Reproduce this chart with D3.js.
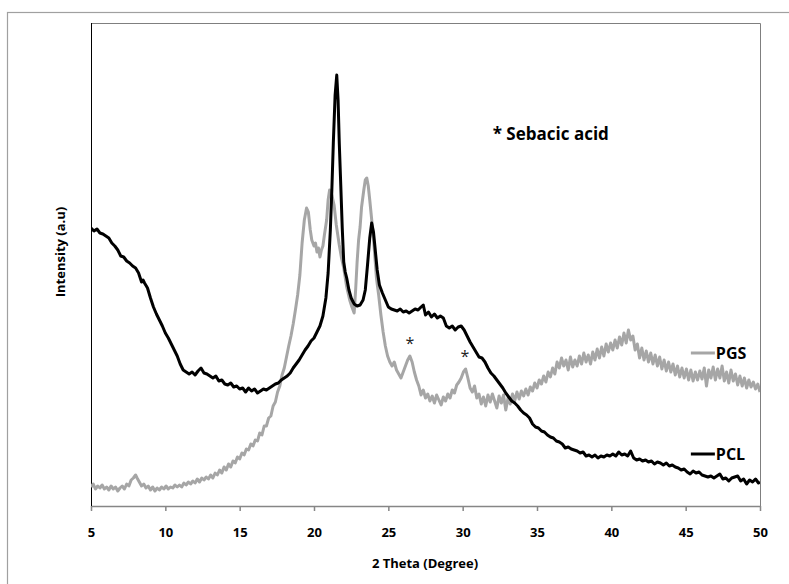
<!DOCTYPE html>
<html>
<head>
<meta charset="utf-8">
<script src="https://cdn.jsdelivr.net/npm/d3@7"></script>
<style>
    body { margin: 0; background: #fff; }
    svg { display: block; font-family: "Open Sans", "Liberation Sans", sans-serif; }
    .tick-label { font-size: 13px; font-weight: bold; fill: #000; }
    .axis-title { font-size: 13px; font-weight: bold; fill: #000; }
</style>
</head>
<body>
<div id="chart"></div>
<script>
// 2 theta (degree), intensity (a.u)
const pgsData = [
    [5.0, 19], [5.15, 22], [5.3, 17], [5.45, 20], [5.6, 18], [5.75, 21], [5.9, 17], [6.05, 19], [6.2, 16], [6.35, 20],
    [6.5, 17], [6.65, 19], [6.8, 15], [6.95, 18], [7.1, 20], [7.25, 17], [7.4, 22], [7.55, 20], [7.7, 26], [7.85, 28],
    [8.0, 31], [8.1, 28], [8.25, 24], [8.4, 20], [8.55, 22], [8.7, 18], [8.85, 20], [9.0, 16], [9.15, 19], [9.3, 15],
    [9.45, 18], [9.6, 16], [9.75, 19], [9.9, 17], [10.05, 20], [10.2, 17], [10.35, 19], [10.5, 18], [10.65, 21], [10.8, 19],
    [10.95, 21], [11.1, 19], [11.25, 23], [11.4, 21], [11.55, 24], [11.7, 22], [11.85, 25], [12.0, 23], [12.15, 27], [12.3, 24],
    [12.45, 28], [12.6, 26], [12.75, 29], [12.9, 27], [13.05, 31], [13.2, 28], [13.35, 33], [13.5, 31], [13.65, 36], [13.8, 33],
    [13.95, 39], [14.1, 36], [14.25, 42], [14.4, 39], [14.55, 45], [14.7, 43], [14.85, 49], [15.0, 47], [15.15, 53], [15.3, 51],
    [15.45, 57], [15.6, 56], [15.75, 62], [15.9, 60], [16.05, 66], [16.2, 65], [16.35, 73], [16.5, 71], [16.65, 80], [16.8, 80],
    [16.95, 88], [17.1, 90], [17.25, 100], [17.4, 104], [17.55, 114], [17.7, 120], [17.85, 131], [18.0, 138], [18.15, 149], [18.3, 160],
    [18.45, 170], [18.6, 182], [18.75, 196], [18.9, 211], [19.05, 231], [19.2, 263], [19.35, 286], [19.5, 298], [19.62, 294], [19.75, 276],
    [19.85, 266], [20.0, 260], [20.1, 263], [20.2, 254], [20.3, 258], [20.4, 249], [20.5, 256], [20.6, 260], [20.7, 271], [20.85, 286],
    [20.95, 306], [21.05, 316], [21.2, 311], [21.35, 301], [21.5, 281], [21.7, 261], [21.85, 248], [22.0, 238], [22.2, 219], [22.4, 206],
    [22.55, 199], [22.7, 193], [22.8, 216], [22.9, 244], [23.0, 266], [23.1, 279], [23.2, 299], [23.35, 316], [23.45, 326], [23.55, 328],
    [23.65, 320], [23.75, 306], [23.85, 291], [24.0, 268], [24.1, 248], [24.2, 228], [24.35, 211], [24.5, 191], [24.65, 174], [24.8, 160],
    [24.95, 150], [25.1, 144], [25.25, 140], [25.4, 144], [25.55, 136], [25.7, 132], [25.85, 128], [26.0, 134], [26.15, 140], [26.3, 146],
    [26.45, 150], [26.6, 144], [26.75, 134], [26.9, 126], [27.05, 120], [27.2, 111], [27.35, 116], [27.5, 108], [27.65, 112], [27.8, 105],
    [27.95, 110], [28.1, 103], [28.25, 111], [28.4, 106], [28.55, 101], [28.7, 109], [28.85, 105], [29.0, 112], [29.15, 108], [29.3, 116],
    [29.45, 113], [29.6, 121], [29.75, 124], [29.9, 128], [30.05, 134], [30.2, 137], [30.35, 128], [30.5, 118], [30.65, 114], [30.8, 120],
    [30.95, 108], [31.1, 112], [31.25, 102], [31.4, 109], [31.55, 100], [31.7, 111], [31.85, 104], [32.0, 112], [32.15, 105], [32.3, 98],
    [32.45, 110], [32.6, 103], [32.75, 111], [32.9, 96], [33.05, 108], [33.2, 102], [33.35, 112], [33.5, 105], [33.65, 114], [33.8, 107],
    [33.95, 115], [34.1, 110], [34.25, 117], [34.4, 111], [34.55, 119], [34.7, 115], [34.85, 123], [35.0, 118], [35.15, 126], [35.3, 122],
    [35.45, 130], [35.6, 124], [35.75, 134], [35.9, 129], [36.05, 138], [36.2, 132], [36.35, 144], [36.5, 138], [36.65, 148], [36.8, 140],
    [36.95, 146], [37.1, 136], [37.25, 149], [37.4, 139], [37.55, 146], [37.7, 140], [37.85, 150], [38.0, 142], [38.15, 153], [38.3, 144],
    [38.45, 151], [38.6, 142], [38.75, 154], [38.9, 146], [39.05, 157], [39.2, 148], [39.35, 159], [39.5, 150], [39.65, 162], [39.8, 154],
    [39.95, 163], [40.1, 156], [40.25, 166], [40.4, 158], [40.55, 169], [40.7, 161], [40.85, 173], [41.0, 163], [41.15, 176], [41.3, 166],
    [41.45, 170], [41.6, 156], [41.75, 162], [41.9, 148], [42.05, 158], [42.2, 146], [42.35, 155], [42.5, 144], [42.65, 153], [42.8, 142],
    [42.95, 151], [43.1, 140], [43.25, 149], [43.4, 137], [43.55, 146], [43.7, 135], [43.85, 144], [44.0, 134], [44.15, 142], [44.3, 131],
    [44.45, 140], [44.6, 129], [44.75, 138], [44.9, 128], [45.05, 137], [45.2, 126], [45.35, 136], [45.5, 125], [45.65, 134], [45.8, 126],
    [45.95, 135], [46.1, 127], [46.25, 138], [46.4, 120], [46.55, 136], [46.7, 128], [46.85, 139], [47.0, 126], [47.15, 137], [47.3, 128],
    [47.45, 140], [47.6, 125], [47.75, 134], [47.9, 123], [48.05, 136], [48.2, 125], [48.35, 132], [48.5, 121], [48.65, 130], [48.8, 120],
    [48.95, 128], [49.1, 118], [49.25, 126], [49.4, 119], [49.55, 124], [49.7, 117], [49.85, 122], [50.0, 114]
];

const pclData = [
    [5.0, 278], [5.2, 275], [5.4, 277], [5.6, 273], [5.8, 272], [6.0, 270], [6.2, 268], [6.4, 263], [6.6, 260], [6.8, 256],
    [7.0, 250], [7.2, 249], [7.4, 245], [7.6, 243], [7.8, 240], [8.0, 238], [8.2, 233], [8.4, 224], [8.5, 226], [8.6, 223],
    [8.8, 218], [9.0, 208], [9.2, 199], [9.4, 192], [9.6, 186], [9.8, 180], [10.0, 173], [10.2, 168], [10.4, 162], [10.6, 156],
    [10.8, 150], [11.0, 142], [11.2, 136], [11.4, 134], [11.6, 132], [11.8, 134], [12.0, 131], [12.2, 135], [12.4, 138], [12.6, 133],
    [12.8, 132], [13.0, 130], [13.2, 128], [13.4, 130], [13.6, 125], [13.8, 126], [14.0, 122], [14.2, 121], [14.4, 123], [14.6, 119],
    [14.8, 120], [15.0, 117], [15.2, 118], [15.4, 114], [15.6, 118], [15.8, 115], [16.0, 117], [16.2, 113], [16.4, 115], [16.6, 117],
    [16.8, 116], [17.0, 118], [17.2, 120], [17.4, 122], [17.6, 123], [17.8, 126], [18.0, 128], [18.2, 130], [18.4, 133], [18.6, 138],
    [18.8, 142], [19.0, 146], [19.2, 151], [19.4, 156], [19.6, 160], [19.8, 165], [20.0, 168], [20.2, 174], [20.4, 180], [20.6, 190],
    [20.8, 208], [20.95, 233], [21.1, 276], [21.2, 316], [21.3, 363], [21.42, 411], [21.53, 431], [21.62, 406], [21.7, 363], [21.8, 321],
    [21.9, 278], [22.0, 244], [22.1, 234], [22.2, 228], [22.35, 216], [22.5, 208], [22.7, 202], [22.9, 200], [23.1, 201], [23.3, 206],
    [23.45, 216], [23.6, 241], [23.75, 268], [23.88, 283], [24.0, 274], [24.1, 259], [24.25, 236], [24.4, 221], [24.6, 213], [24.8, 206],
    [25.0, 199], [25.2, 197], [25.4, 196], [25.6, 195], [25.8, 197], [26.0, 194], [26.2, 195], [26.4, 193], [26.6, 195], [26.8, 197],
    [27.0, 196], [27.2, 199], [27.35, 201], [27.5, 191], [27.7, 194], [27.9, 189], [28.1, 192], [28.3, 188], [28.5, 190], [28.7, 188],
    [28.9, 180], [29.1, 178], [29.3, 180], [29.5, 176], [29.7, 179], [29.9, 180], [30.1, 176], [30.3, 170], [30.5, 164], [30.7, 159],
    [30.9, 154], [31.1, 149], [31.3, 148], [31.5, 144], [31.7, 138], [31.9, 133], [32.1, 130], [32.3, 126], [32.5, 122], [32.7, 118],
    [32.9, 113], [33.1, 109], [33.3, 105], [33.5, 103], [33.7, 100], [33.9, 96], [34.1, 93], [34.3, 91], [34.5, 88], [34.7, 82],
    [34.9, 79], [35.1, 78], [35.3, 75], [35.5, 74], [35.7, 71], [35.9, 69], [36.1, 68], [36.3, 65], [36.5, 64], [36.7, 62],
    [36.9, 58], [37.1, 59], [37.3, 57], [37.5, 56], [37.7, 55], [37.9, 53], [38.1, 54], [38.3, 50], [38.5, 51], [38.7, 49],
    [38.9, 51], [39.1, 48], [39.3, 50], [39.5, 49], [39.7, 51], [39.9, 50], [40.1, 52], [40.3, 50], [40.5, 54], [40.7, 51],
    [40.9, 52], [41.1, 50], [41.3, 55], [41.5, 48], [41.7, 46], [41.9, 47], [42.1, 45], [42.3, 46], [42.5, 44], [42.7, 45],
    [42.9, 42], [43.1, 44], [43.3, 43], [43.5, 41], [43.7, 43], [43.9, 40], [44.1, 41], [44.3, 39], [44.5, 38], [44.7, 36],
    [44.9, 37], [45.1, 34], [45.3, 32], [45.5, 35], [45.7, 33], [45.9, 34], [46.1, 31], [46.3, 30], [46.5, 29], [46.7, 30],
    [46.9, 28], [47.1, 30], [47.3, 32], [47.5, 27], [47.7, 28], [47.9, 25], [48.1, 28], [48.3, 29], [48.5, 30], [48.7, 25],
    [48.9, 27], [49.1, 22], [49.3, 26], [49.5, 24], [49.7, 27], [49.9, 23], [50.0, 24]
];

const seriesNames = ["PGS", "PCL"];
const xTicks = [5, 10, 15, 20, 25, 30, 35, 40, 45, 50];
// sebacic acid reflections marked with an asterisk, [2 theta, intensity]
const acidMarks = [[26.45, 166], [30.15, 153]];

const width = 789;
const height = 584;
const margin = {top: 23, right: 29, bottom: 78, left: 91};
const plotW = width - margin.left - margin.right;
const plotH = height - margin.top - margin.bottom;

const colors = {PGS: "#a6a6a6", PCL: "#000000"};

const svg = d3.select("#chart").append("svg")
    .attr("width", width)
    .attr("height", height);

// chart area frame (runs off the picture on the right and bottom)
svg.append("rect")
    .attr("x", 7.5).attr("y", 12.5)
    .attr("width", 820).attr("height", 620)
    .attr("fill", "none")
    .attr("stroke", "#a0a0a0")
    .attr("stroke-width", 1.2);

const x = d3.scaleLinear().domain([5, 50]).range([0, plotW]);
const y = d3.scaleLinear().domain([0, 483]).range([plotH, 0]);

const g = svg.append("g")
    .attr("transform", `translate(${margin.left},${margin.top})`);

g.append("defs").append("clipPath").attr("id", "plotClip")
    .append("rect").attr("width", plotW).attr("height", plotH);

// plot area border (top and right)
g.append("path")
    .attr("d", `M0,0.5H${plotW + 0.5}V${plotH}`)
    .attr("fill", "none")
    .attr("stroke", "#7f7f7f")
    .attr("stroke-width", 1);

// x axis
const xAxis = g.append("g")
    .attr("transform", `translate(0,${plotH})`)
    .call(d3.axisBottom(x).tickValues(xTicks).tickSize(5).tickPadding(17).tickSizeOuter(0));
xAxis.select(".domain").attr("stroke", "#868686").attr("stroke-width", 1.5);
xAxis.selectAll(".tick line").attr("stroke", "#868686").attr("stroke-width", 1.5);
xAxis.selectAll(".tick text")
    .attr("class", "tick-label")
    .style("font-family", "'Open Sans', sans-serif");

// y axis (line only)
g.append("line")
    .attr("x1", 0.5).attr("x2", 0.5)
    .attr("y1", 0).attr("y2", plotH)
    .attr("stroke", "#000")
    .attr("stroke-width", 1);

const line = d3.line()
    .x(d => x(d[0]))
    .y(d => y(d[1]));

const lines = g.append("g").attr("clip-path", "url(#plotClip)");
[pgsData, pclData].forEach((data, i) => {
    lines.append("path")
        .datum(data)
        .attr("fill", "none")
        .attr("stroke", colors[seriesNames[i]])
        .attr("stroke-width", 3)
        .attr("stroke-linejoin", "round")
        .attr("d", line);
});

// asterisks over sebacic acid peaks
g.selectAll(".acid-mark")
    .data(acidMarks)
    .join("text")
    .attr("class", "acid-mark")
    .attr("x", d => x(d[0]))
    .attr("y", d => y(d[1]) + 9)
    .attr("text-anchor", "middle")
    .style("font-size", "16px")
    .style("fill", "#222")
    .text("*");

g.append("text")
    .attr("x", x(32.02))
    .attr("y", y(366))
    .style("font-size", "17px")
    .style("font-weight", "bold")
    .text("* Sebacic acid");

// legend
const legendItems = [["PGS", 153], ["PCL", 52]];
const legend = g.selectAll(".legend-item")
    .data(legendItems)
    .join("g")
    .attr("class", "legend-item")
    .attr("transform", d => `translate(${x(45.35)},${y(d[1])})`);
legend.append("line")
    .attr("x1", 0).attr("x2", 24)
    .attr("stroke", d => colors[d[0]])
    .attr("stroke-width", 3);
legend.append("text")
    .attr("x", 25)
    .attr("dy", "0.36em")
    .style("font-size", "16px")
    .style("font-weight", "bold")
    .text(d => d[0]);

// axis titles
svg.append("text")
    .attr("class", "axis-title")
    .attr("x", 425)
    .attr("y", 568)
    .attr("text-anchor", "middle")
    .text("2 Theta (Degree)");

svg.append("text")
    .attr("class", "axis-title")
    .attr("transform", "translate(65,252) rotate(-90)")
    .attr("text-anchor", "middle")
    .text("Intensity (a.u)");
</script>
</body>
</html>
